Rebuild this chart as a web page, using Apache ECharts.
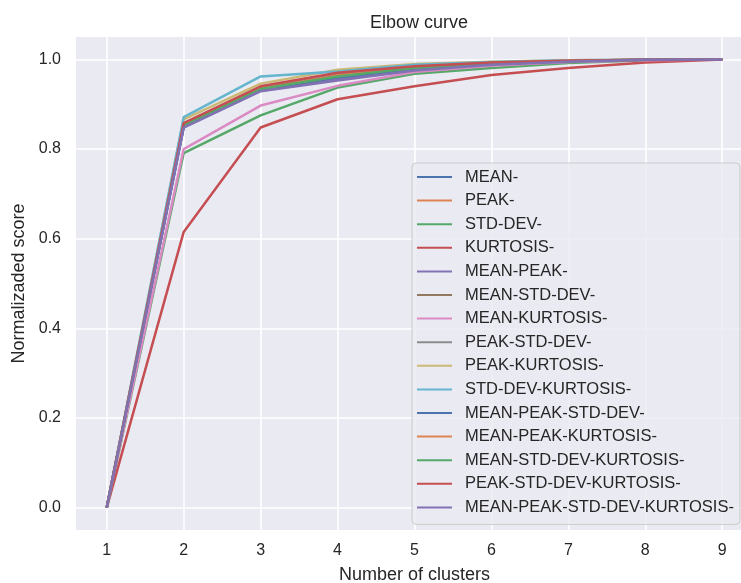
<!DOCTYPE html>
<html>
<head>
<meta charset="utf-8">
<script src="https://cdn.jsdelivr.net/npm/echarts@6/dist/echarts.min.js"></script>
<style>html,body{margin:0;padding:0;background:#fff;}#c{width:741px;height:583px;}</style>
</head>
<body>
<div id="c"></div>
<script>
const clusters = [1, 2, 3, 4, 5, 6, 7, 8, 9];
const xTicks = [1, 2, 3, 4, 5, 6, 7, 8, 9];
const yTicks = [0, 0.2, 0.4, 0.6, 0.8, 1.0];
const seriesNames = [
  'MEAN-', 'PEAK-', 'STD-DEV-', 'KURTOSIS-', 'MEAN-PEAK-', 'MEAN-STD-DEV-',
  'MEAN-KURTOSIS-', 'PEAK-STD-DEV-', 'PEAK-KURTOSIS-', 'STD-DEV-KURTOSIS-',
  'MEAN-PEAK-STD-DEV-', 'MEAN-PEAK-KURTOSIS-', 'MEAN-STD-DEV-KURTOSIS-',
  'PEAK-STD-DEV-KURTOSIS-', 'MEAN-PEAK-STD-DEV-KURTOSIS-'
];
const mean = [0, 0.850, 0.932, 0.958, 0.978, 0.990, 0.996, 0.999, 1.0];
const peak = [0, 0.857, 0.937, 0.966, 0.984, 0.992, 0.997, 0.999, 1.0];
const stdDev = [0, 0.791, 0.875, 0.937, 0.968, 0.981, 0.992, 0.998, 1.0];
const kurtosis = [0, 0.615, 0.848, 0.911, 0.940, 0.965, 0.981, 0.993, 1.0];
const meanPeak = [0, 0.849, 0.930, 0.955, 0.976, 0.989, 0.995, 0.999, 1.0];
const meanStdDev = [0, 0.856, 0.936, 0.965, 0.983, 0.992, 0.997, 0.999, 1.0];
const meanKurtosis = [0, 0.800, 0.897, 0.941, 0.972, 0.986, 0.994, 0.998, 1.0];
const peakStdDev = [0, 0.857, 0.938, 0.968, 0.984, 0.993, 0.997, 0.999, 1.0];
const peakKurtosis = [0, 0.866, 0.946, 0.977, 0.990, 0.995, 0.998, 0.999, 1.0];
const stdDevKurtosis = [0, 0.871, 0.962, 0.973, 0.988, 0.994, 0.998, 0.999, 1.0];
const meanPeakStdDev = [0, 0.851, 0.933, 0.960, 0.979, 0.990, 0.996, 0.999, 1.0];
const meanPeakKurtosis = [0, 0.855, 0.935, 0.964, 0.983, 0.992, 0.997, 0.999, 1.0];
const meanStdDevKurtosis = [0, 0.853, 0.934, 0.962, 0.981, 0.991, 0.996, 0.999, 1.0];
const peakStdDevKurtosis = [0, 0.858, 0.940, 0.970, 0.985, 0.993, 0.997, 0.999, 1.0];
const meanPeakStdDevKurtosis = [0, 0.848, 0.929, 0.953, 0.975, 0.988, 0.995, 0.999, 1.0];

const allValues = [mean, peak, stdDev, kurtosis, meanPeak, meanStdDev, meanKurtosis,
  peakStdDev, peakKurtosis, stdDevKurtosis, meanPeakStdDev, meanPeakKurtosis,
  meanStdDevKurtosis, peakStdDevKurtosis, meanPeakStdDevKurtosis];

const palette = ['#4C72B0','#DD8452','#55A868','#C44E52','#8172B3','#937860','#DA8BC3','#8C8C8C','#CCB974','#64B5CD'];
const FONT = '"Liberation Sans", Arial, sans-serif';
const TXT = '#262626';

const chart = echarts.init(document.getElementById('c'), null, {renderer: 'canvas'});
chart.setOption({
  animation: false,
  color: palette,
  title: {
    text: 'Elbow curve', left: 414, top: 9, textAlign: 'center',
    textStyle: {fontFamily: FONT, fontSize: 18, fontWeight: 'normal', color: TXT}
  },
  grid: {
    left: 76, width: 677, top: 37, bottom: 53,
    outerBoundsMode: 'none', containLabel: false,
    show: true, backgroundColor: '#EAEAF2', borderWidth: 0
  },
  legend: {
    orient: 'vertical', left: 412, top: 163,
    padding: [5, 6, 8, 5],
    itemWidth: 35, itemHeight: 2, itemGap: 5.6,
    icon: 'rect',
    backgroundColor: 'rgba(234,234,242,0.85)',
    borderColor: '#CCCCCC', borderWidth: 1, borderRadius: 4,
    textStyle: {fontFamily: FONT, fontSize: 16.5, color: TXT, lineHeight: 18, padding: [0, 0, 0, 8]},
    data: seriesNames
  },
  xAxis: {
    type: 'value', min: 0.6, max: 9.4,
    name: 'Number of clusters', nameLocation: 'middle', nameGap: 36,
    nameTextStyle: {fontFamily: FONT, fontSize: 18, color: TXT},
    axisLine: {show: false},
    axisTick: {show: false, customValues: xTicks},
    axisLabel: {customValues: xTicks, fontFamily: FONT, fontSize: 16, color: TXT, margin: 13},
    splitLine: {show: true, lineStyle: {color: '#FFFFFF', width: 1.6}}
  },
  yAxis: {
    type: 'value', min: -0.05, max: 1.05,
    name: 'Normalizaded score', nameLocation: 'middle', nameGap: 43,
    nameTextStyle: {fontFamily: FONT, fontSize: 18, color: TXT},
    axisLine: {show: false},
    axisTick: {show: false, customValues: yTicks},
    axisLabel: {customValues: yTicks, fontFamily: FONT, fontSize: 16, color: TXT, margin: 15,
      formatter: v => v.toFixed(1)},
    splitLine: {show: true, lineStyle: {color: '#FFFFFF', width: 1.6}}
  },
  series: seriesNames.map((n, i) => ({
    name: n, type: 'line', symbol: 'none',
    data: clusters.map((c, j) => [c, allValues[i][j]]),
    lineStyle: {width: 2.5, color: palette[i % palette.length]},
    itemStyle: {color: palette[i % palette.length]}
  }))
});
</script>
</body>
</html>
